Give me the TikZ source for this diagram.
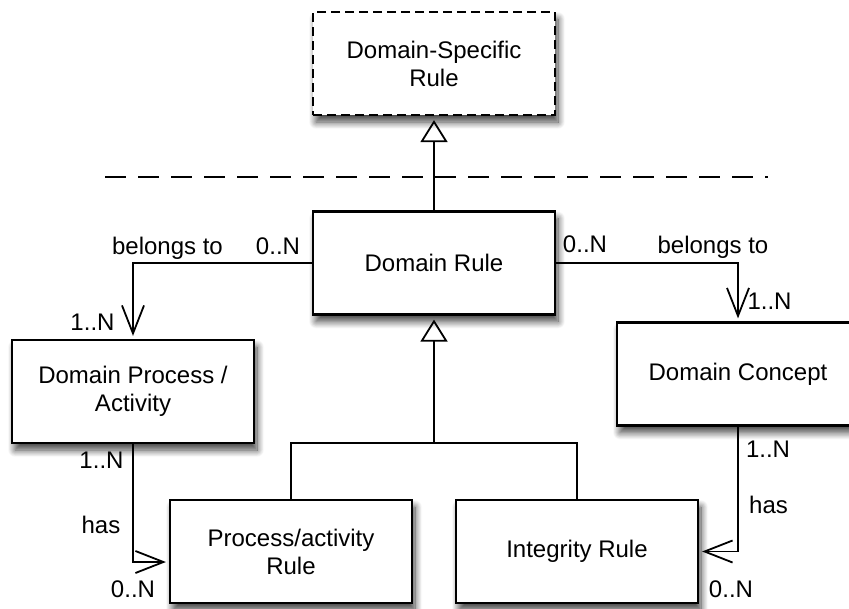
\documentclass[tikz,border=0pt]{standalone}
\usepackage{fontspec}
\setmainfont{Liberation Sans}
\usetikzlibrary{arrows.meta,shadows.blur,calc}
\begin{document}
\begin{tikzpicture}[x=1pt,y=-1pt,
  every node/.style={font=\fontsize{24}{28}\selectfont},
  box/.style={draw,line width=2.2pt,fill=white,minimum width=242pt,minimum height=103pt,align=center,inner sep=0pt,
    blur shadow={shadow xshift=3pt,shadow yshift=-7pt,shadow blur radius=7pt,shadow blur steps=12,shadow opacity=75}},
  dashbox/.style={box,dash pattern=on 9pt off 5pt},
  assoc/.style={line width=1.8pt,-{Straight Barb[length=28pt,width=22pt,line width=1.8pt]},shorten >=3pt},
  gen/.style={line width=1.8pt,-{Triangle[open,length=22pt,width=27pt,line width=1.8pt]},shorten >=4pt},
  lbl/.style={anchor=base}]
\useasboundingbox (0,0) rectangle (849,608);
\clip (0,0) rectangle (849,608);
\node[dashbox] (dsr) at (434,63.5) {Domain-Specific\\Rule};
\node[box] (dr) at (434,263) {Domain Rule};
\node[box] (dpa) at (133,391.5) {Domain Process /\\Activity};
\node[box] (dc) at (738,374) {Domain Concept};
\node[box] (par) at (291,551.5) {Process/activity\\Rule};
\node[box] (ir) at (577,551.5) {Integrity Rule};
\coordinate (j) at (434,443);
\coordinate (dl) at (105,177);
\coordinate (dre) at (768,177);
\draw[line width=1.8pt,dash pattern=on 21pt off 12pt] (dl) -- (dre);
\draw[gen] (dr.north) -- (dsr.south);
\draw[line width=1.8pt] (par.north) |- (j) -| (ir.north);
\draw[gen] (j) -- (dr.south);
\draw[assoc] (dr.west) -| (dpa.north);
\draw[assoc] (dr.east) -| (dc.north);
\draw[assoc] (dpa.south) |- ($(par.west)+(0,10.5)$);
\draw[assoc] (dc.south) |- (ir.east);
\node[lbl] (l1) at (167.5,254) {belongs to};
\node[lbl] (l2) at (278,254) {0..N};
\node[lbl] (l3) at (92.5,330) {1..N};
\node[lbl] (l4) at (585,252) {0..N};
\node[lbl] (l5) at (713,253) {belongs to};
\node[lbl] (l6) at (769.5,309) {1..N};
\node[lbl] (l7) at (101.5,468) {1..N};
\node[lbl] (l8) at (101,533) {has};
\node[lbl] (l9) at (133,597) {0..N};
\node[lbl] (l10) at (768,457) {1..N};
\node[lbl] (l11) at (768.5,513) {has};
\node[lbl] (l12) at (731,597) {0..N};
\end{tikzpicture}
\end{document}
